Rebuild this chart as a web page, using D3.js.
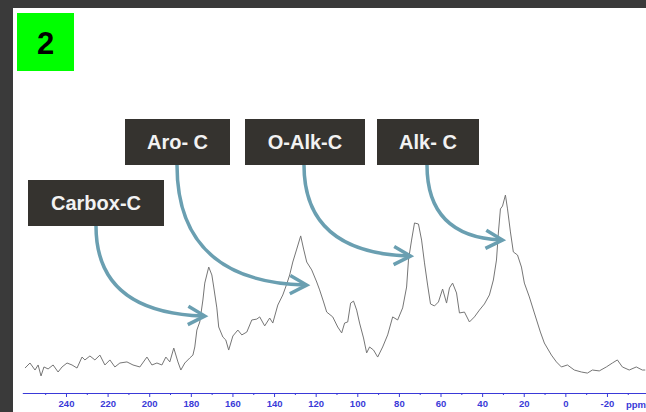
<!DOCTYPE html>
<html>
<head>
<meta charset="utf-8">
<script src="https://cdn.jsdelivr.net/npm/d3@7"></script>
<style>
  html, body { margin: 0; padding: 0; background: #3a3a3a; }
  svg { display: block; }
  text { font-family: "Liberation Sans", Arial, sans-serif; }
</style>
</head>
<body>
<svg id="chart" width="646" height="412"></svg>
<script>
// 13C CP-MAS NMR spectrum: chemical shift (ppm) and relative intensity
const shiftPpm = [259.7, 257.3, 254.9, 253.4, 252.0, 250.6, 248.6, 246.2, 243.8, 241.9,
  239.5, 237.1, 234.7, 232.3, 230.9, 228.5, 226.1, 223.7, 221.3, 218.9,
  216.5, 214.1, 210.7, 207.8, 204.5, 201.1, 198.7, 196.3, 193.9, 192.0,
  190.1, 188.2, 186.2, 184.8, 182.9, 180.5, 179.0, 178.1, 177.1, 175.7,
  174.2, 173.3, 171.4, 169.9, 169.0, 167.5, 166.6, 164.6, 163.2, 161.8,
  159.8, 157.4, 155.5, 153.1, 150.7, 148.3, 146.9, 144.5, 142.1, 140.6,
  138.2, 135.8, 133.9, 132.5, 131.0, 129.1, 127.2, 125.8, 124.3, 121.9,
  119.5, 118.1, 116.2, 114.7, 111.8, 109.4, 107.5, 106.1, 104.6, 103.2,
  101.8, 100.3, 98.9, 97.0, 95.5, 94.1, 92.2, 90.2, 87.8, 85.4,
  83.0, 80.6, 78.2, 76.3, 75.4, 73.9, 72.5, 70.6, 69.1, 67.7,
  66.2, 64.8, 62.9, 61.0, 59.0, 57.1, 55.7, 54.2, 52.3, 50.9,
  48.5, 46.1, 43.7, 41.3, 38.9, 36.5, 34.6, 33.1, 32.2, 31.2,
  30.2, 28.8, 27.8, 26.4, 25.0, 23.0, 21.1, 19.7, 17.3, 14.9,
  12.0, 10.1, 6.7, 4.3, 1.9, -1.0, -4.3, -7.7, -10.6, -13.0,
  -16.3, -19.7, -22.6, -25.0, -27.4, -30.7, -34.1, -37.0, -38.4];
const intensity = [2.2, 5.0, 1.1, 3.9, -2.2, 2.8, 1.7, 3.9, 0.0, 2.8,
  5.0, 3.9, 2.2, 8.3, 6.7, 8.9, 6.7, 9.4, 3.9, 6.7,
  2.8, 5.0, 5.6, 3.9, 2.8, 8.3, 3.9, 5.0, 3.9, 8.3,
  5.6, 13.3, 5.6, 1.1, 5.0, 7.8, 9.4, 13.9, 23.3, 27.8,
  40.0, 49.4, 58.3, 53.9, 47.2, 35.6, 25.0, 19.4, 17.8, 12.2,
  20.0, 23.3, 20.6, 22.2, 28.9, 29.4, 30.6, 25.6, 30.0, 27.2,
  37.2, 42.8, 48.9, 53.9, 61.1, 68.3, 75.6, 68.3, 61.1, 56.7,
  50.0, 45.6, 38.9, 33.3, 30.6, 25.0, 21.7, 27.2, 27.8, 38.3,
  39.4, 34.4, 27.2, 18.9, 10.6, 13.9, 12.2, 8.3, 13.9, 20.6,
  30.6, 28.9, 35.6, 47.2, 62.2, 73.3, 82.8, 82.2, 73.3, 60.6,
  48.3, 37.8, 36.7, 38.9, 46.1, 38.3, 46.7, 49.4, 43.9, 32.8,
  33.3, 27.8, 30.6, 34.4, 37.8, 42.8, 51.1, 62.2, 77.2, 90.6,
  92.2, 98.3, 90.6, 77.8, 66.7, 65.0, 58.3, 49.4, 41.7, 32.8,
  22.2, 16.1, 9.4, 5.6, 2.8, 3.9, 1.1, 0.0, -0.6, 1.1,
  0.6, 2.8, 5.0, 6.7, 2.8, 1.1, 2.8, 1.1, 1.1];

// axis ticks
const majorTicks = [240, 220, 200, 180, 160, 140, 120, 100, 80, 60, 40, 20, 0, -20];
const minorTicks = [250, 230, 210, 190, 170, 150, 130, 110, 90, 70, 50, 30, 10, -10, -30];

// carbon groups: label and the shift / intensity its arrow points at
const groupLabels = ["Carbox-C", "Aro- C", "O-Alk-C", "Alk- C"];
const groupShift = [173.3, 124.3, 74.4, 30.2];
const groupLevel = [31.1, 48.3, 64.4, 73.3];

const svg = d3.select("#chart");
const W = 646, H = 412;

// white panel inside the dark frame
svg.append("rect").attr("x", 13).attr("y", 8).attr("width", W - 13).attr("height", H - 8)
  .attr("fill", "#ffffff");

// panel number badge
svg.append("rect").attr("x", 17).attr("y", 13).attr("width", 57).attr("height", 58)
  .attr("fill", "#00ff00");
svg.append("text").attr("x", 45.5).attr("y", 54).attr("text-anchor", "middle")
  .attr("font-size", 31).attr("font-weight", "bold").attr("fill", "#000").text("2");

const x = d3.scaleLinear().domain([261, -39]).range([22.3, 646.5]);
const y = d3.scaleLinear().domain([0, 100]).range([372, 192]);

const spectrum = shiftPpm.map((p, i) => [p, intensity[i]]);

svg.append("path")
  .datum(spectrum)
  .attr("fill", "none")
  .attr("stroke", "#767676")
  .attr("stroke-width", 1)
  .attr("stroke-linejoin", "round")
  .attr("d", d3.line().x(d => x(d[0])).y(d => y(d[1])));

// ppm axis
const axisColor = "#3a3ad8";
const axisY = 393;
const gAxis = svg.append("g").attr("transform", `translate(0,${axisY})`)
  .call(d3.axisBottom(x).tickValues(majorTicks).tickSize(4).tickSizeOuter(0).tickPadding(3)
    .tickFormat(d => String(d)));
gAxis.select(".domain").attr("stroke", axisColor);
gAxis.selectAll(".tick line").attr("stroke", axisColor);
gAxis.selectAll(".tick text").attr("fill", axisColor).attr("font-size", 9.5)
  .attr("font-weight", "bold").attr("font-family", "Liberation Sans, Arial, sans-serif");

const gMinor = svg.append("g").attr("transform", `translate(0,${axisY})`)
  .call(d3.axisBottom(x).tickValues(minorTicks).tickSize(2).tickSizeOuter(0).tickFormat(""));
gMinor.select(".domain").remove();
gMinor.selectAll(".tick line").attr("stroke", axisColor);

svg.append("text").attr("x", 626).attr("y", axisY + 14.5)
  .attr("fill", axisColor).attr("font-size", 9.5).attr("font-weight", "bold").text("ppm");

// label boxes and curved arrows
const boxes = [
  { x0: 28, y0: 180, x1: 164, y1: 226, sx: 96 },
  { x0: 125, y0: 119, x1: 230, y1: 165, sx: 177 },
  { x0: 245, y0: 119, x1: 365, y1: 165, sx: 304 },
  { x0: 377, y0: 119, x1: 479, y1: 165, sx: 427 }
];
const arrowColor = "#6a9fb1";

groupLabels.forEach((label, i) => {
  const b = boxes[i];
  const tx = x(groupShift[i]), ty = y(groupLevel[i]);
  const sy = b.y1;
  // curve leaves the box downward and arrives nearly horizontal
  const c1x = b.sx, c1y = sy + (ty - sy) * 0.75;
  const c2x = b.sx + (tx - b.sx) * 0.45, c2y = ty - 2;
  svg.append("path")
    .attr("d", `M${b.sx},${sy} C${c1x},${c1y} ${c2x},${c2y} ${tx - 2},${ty}`)
    .attr("fill", "none").attr("stroke", arrowColor).attr("stroke-width", 3.5);
  // arrowhead
  const ang = Math.atan2(ty - c2y, tx - c2x);
  const len = 19, spread = 0.5;
  const a1 = [tx - len * Math.cos(ang - spread), ty - len * Math.sin(ang - spread)];
  const a2 = [tx - len * Math.cos(ang + spread), ty - len * Math.sin(ang + spread)];
  svg.append("path")
    .attr("d", `M${a1[0]},${a1[1]} L${tx},${ty} L${a2[0]},${a2[1]}`)
    .attr("fill", "none").attr("stroke", arrowColor).attr("stroke-width", 3.5)
    .attr("stroke-linecap", "butt").attr("stroke-linejoin", "miter");

  svg.append("rect").attr("x", b.x0).attr("y", b.y0)
    .attr("width", b.x1 - b.x0).attr("height", b.y1 - b.y0).attr("fill", "#35332f");
  svg.append("text").attr("x", (b.x0 + b.x1) / 2).attr("y", (b.y0 + b.y1) / 2 + 7)
    .attr("text-anchor", "middle").attr("font-size", 20).attr("font-weight", "bold")
    .attr("fill", "#f2f2f2").text(label);
});
</script>
</body>
</html>
